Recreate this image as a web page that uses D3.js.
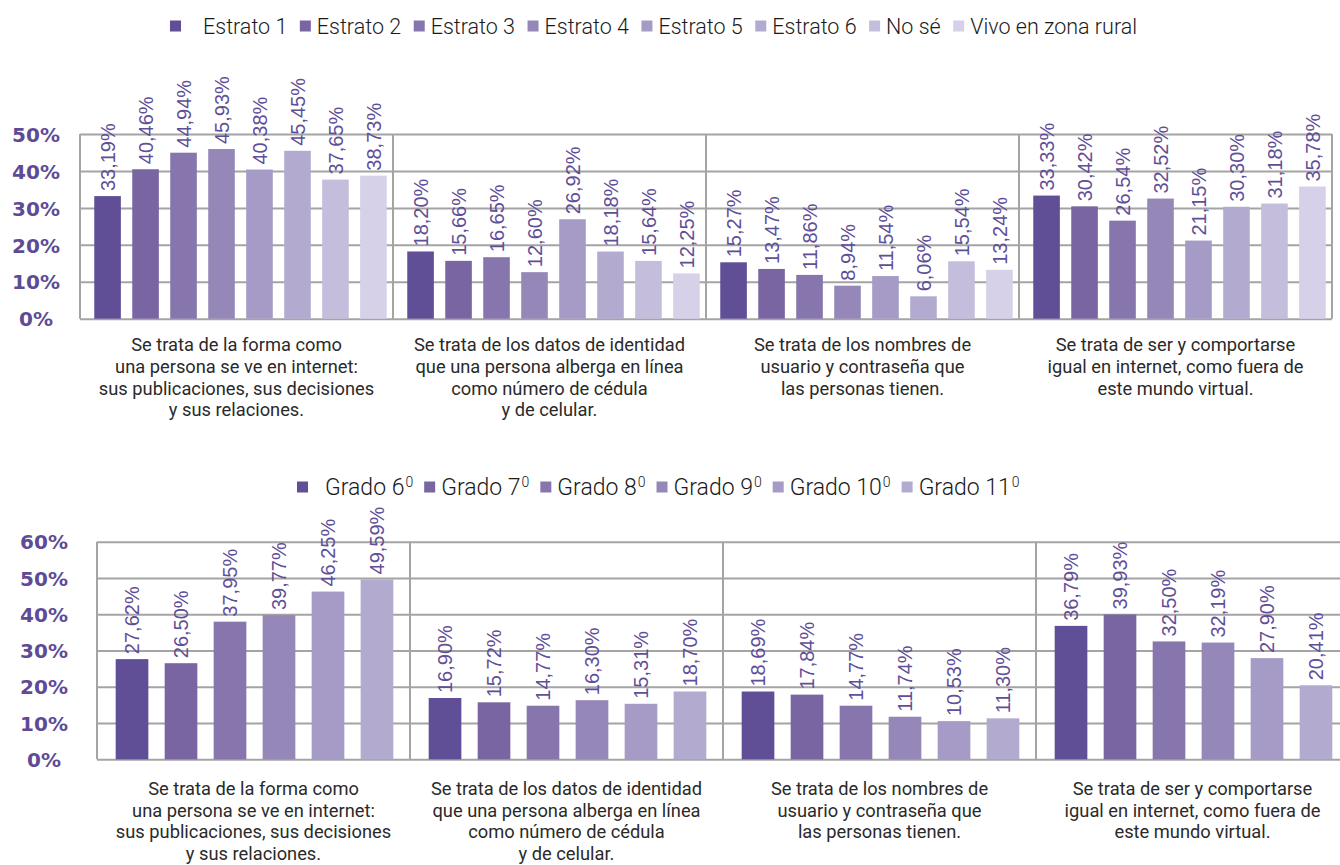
<!DOCTYPE html>
<html><head><meta charset="utf-8">
<script src="https://cdn.jsdelivr.net/npm/d3@7"></script>
<style>
html,body{margin:0;padding:0;background:#fff;}
svg{display:block;}
</style></head>
<body>
<svg id="chart" width="1340" height="865"></svg>
<script>
// ---------- DATA ----------
const categoryLines = [
  ["Se trata de la forma como", "una persona se ve en internet:", "sus publicaciones, sus decisiones", "y sus relaciones."],
  ["Se trata de los datos de identidad", "que una persona alberga en línea", "como número de cédula", "y de celular."],
  ["Se trata de los nombres de", "usuario y contraseña que", "las personas tienen."],
  ["Se trata de ser y comportarse", "igual en internet, como fuera de", "este mundo virtual."]
];
const estratoSeries = ["Estrato 1", "Estrato 2", "Estrato 3", "Estrato 4", "Estrato 5", "Estrato 6", "No sé", "Vivo en zona rural"];
const estratoValues = [
  [33.19, 40.46, 44.94, 45.93, 40.38, 45.45, 37.65, 38.73],
  [18.20, 15.66, 16.65, 12.60, 26.92, 18.18, 15.64, 12.25],
  [15.27, 13.47, 11.86, 8.94, 11.54, 6.06, 15.54, 13.24],
  [33.33, 30.42, 26.54, 32.52, 21.15, 30.30, 31.18, 35.78]
];
const gradoSeries = ["Grado 6", "Grado 7", "Grado 8", "Grado 9", "Grado 10", "Grado 11"];
const gradoValues = [
  [27.62, 26.50, 37.95, 39.77, 46.25, 49.59],
  [16.90, 15.72, 14.77, 16.30, 15.31, 18.70],
  [18.69, 17.84, 14.77, 11.74, 10.53, 11.30],
  [36.79, 39.93, 32.50, 32.19, 27.90, 20.41]
];
const topTicks = [0, 10, 20, 30, 40, 50];
const bottomTicks = [0, 10, 20, 30, 40, 50, 60];
const seriesColors = ["#604e96", "#7a65a3", "#8676ad", "#9587b8", "#a59bc6", "#b3aad0", "#c5bddc", "#d6d1e8"];

// ---------- DRAW ----------
const svg = d3.select("#chart");
const fmt = v => d3.format(".2f")(v).replace(".", ",") + "%";
const GRID = "#a4a4a4";

function drawPanel(cfg) {
  const g = svg.append("g");
  const cats = d3.range(cfg.values.length);
  const x0 = d3.scaleBand().domain(cats).range([cfg.left, cfg.right]).padding(0);
  const x1 = d3.scaleBand().domain(d3.range(cfg.series.length))
    .range([cfg.innerL, x0.bandwidth() - cfg.innerR])
    .paddingInner(cfg.pi).paddingOuter(cfg.po);
  const y = d3.scaleLinear().domain([0, d3.max(cfg.ticks)]).range([cfg.y0, cfg.yTop]);

  // horizontal grid lines
  g.append("g").attr("transform", `translate(${cfg.left},0)`)
    .call(d3.axisRight(y).tickValues(cfg.ticks).tickSize(cfg.right - cfg.left).tickFormat(""))
    .call(a => a.select(".domain").remove())
    .call(a => a.selectAll("line").attr("stroke", GRID).attr("stroke-width", 2));

  // vertical separators
  const seps = cats.map(c => x0(c)).concat([cfg.right]);
  g.append("g").selectAll("line").data(seps).join("line")
    .attr("x1", d => d).attr("x2", d => d)
    .attr("y1", y(d3.max(cfg.ticks))).attr("y2", y(0))
    .attr("stroke", GRID).attr("stroke-width", 2);

  // y tick labels
  g.append("g").attr("transform", `translate(${cfg.labelX},0)`)
    .call(d3.axisLeft(y).tickValues(cfg.ticks).tickSize(0).tickPadding(0).tickFormat(d => d + "%"))
    .call(a => a.select(".domain").remove())
    .call(a => a.selectAll("text")
      .attr("text-anchor", "middle").attr("x", 0).attr("dy", "0.36em")
      .attr("fill", "#5e4b96").style("font-family", "'DejaVu Sans', sans-serif")
      .style("font-weight", "bold").style("font-size", "20px"));

  // bars and labels
  const groups = g.append("g").selectAll("g").data(cfg.values).join("g")
    .attr("transform", (d, i) => `translate(${x0(i)},0)`);
  groups.selectAll("rect").data(d => d).join("rect")
    .attr("x", (d, i) => x1(i)).attr("width", x1.bandwidth())
    .attr("y", d => y(d)).attr("height", d => y(0) - y(d))
    .attr("fill", (d, i) => seriesColors[i]);
  groups.selectAll("text").data(d => d).join("text")
    .attr("transform", (d, i) => `translate(${x1(i) + x1.bandwidth() / 2},${y(d) - 5}) rotate(-90)`)
    .attr("dy", "0.36em")
    .attr("fill", "#5f4f98")
    .style("font-family", "'Liberation Sans', Arial, sans-serif")
    .style("font-size", "20px")
    .text(d => fmt(d));

  // category labels
  const cl = g.append("g").selectAll("text").data(categoryLines).join("text")
    .attr("text-anchor", "middle")
    .attr("fill", "#2a2a2a")
    .style("font-family", "Roboto, sans-serif")
    .style("font-size", "18.3px");
  cl.each(function (lines, i) {
    d3.select(this).selectAll("tspan").data(lines).join("tspan")
      .attr("x", x0(i) + x0.bandwidth() / 2)
      .attr("y", (d, k) => cfg.catY + k * 21.6)
      .attr("dy", "0.35em")
      .text(d => d);
  });

  // legend
  const lg = svg.append("g");
  let lx = cfg.legendX;
  cfg.series.forEach((name, i) => {
    lg.append("rect").attr("x", lx).attr("y", cfg.legendY - 5.5).attr("width", 11).attr("height", 11)
      .attr("fill", seriesColors[i]);
    const t = lg.append("text").attr("x", lx + (i === 0 ? cfg.firstGap : 17)).attr("y", cfg.legendY)
      .attr("dy", "0.35em").attr("fill", "#1a1a1a")
      .style("font-family", "Roboto, sans-serif").style("font-weight", "300")
      .style("font-size", cfg.legendSize + "px");
    t.append("tspan").text(name);
    if (cfg.sup) t.append("tspan").attr("dx", 1).attr("dy", "-0.55em").style("font-size", "14px").text(cfg.sup);
    const bb = t.node().getBBox();
    lx = bb.x + bb.width + cfg.legendGap;
  });
}

drawPanel({
  values: estratoValues, series: estratoSeries, ticks: topTicks,
  left: 80, right: 1332, y0: 318.7, yTop: 134, pi: 0.3, po: 0.165, innerL: 8, innerR: 0,
  labelX: 36, catY: 345, legendX: 170, legendY: 26, firstGap: 33, sup: null,
  legendSize: 21.5, legendGap: 12.5
});
drawPanel({
  values: gradoValues, series: gradoSeries, ticks: bottomTicks,
  left: 97, right: 1349, y0: 759.3, yTop: 541.7, pi: 0.333, po: 0.32, innerL: 3, innerR: 1,
  labelX: 44, catY: 788.5, legendX: 297, legendY: 487, firstGap: 28, sup: "0",
  legendSize: 23, legendGap: 11
});
</script>
</body></html>
